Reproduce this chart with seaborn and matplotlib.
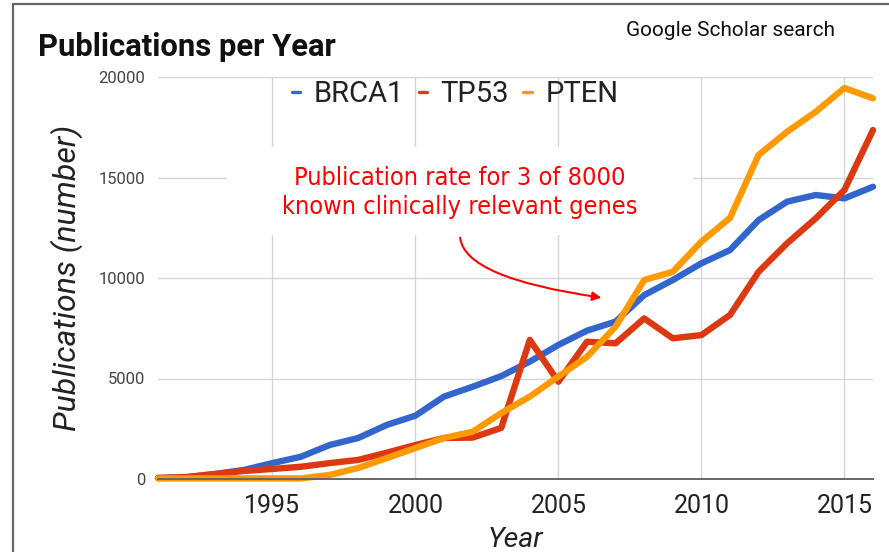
import matplotlib
matplotlib.use("Agg")
import matplotlib.pyplot as plt
from matplotlib.lines import Line2D
from matplotlib.patches import Rectangle, FancyArrowPatch
import seaborn as sns
import pandas as pd

# publications per year
years = list(range(1991, 2017))
brca1 = [50, 80, 250, 450, 790, 1110, 1690, 2040, 2690, 3150,
         4100, 4590, 5120, 5840, 6670, 7380, 7830, 9150, 9900, 10730,
         11390, 12880, 13800, 14130, 13960, 14540]
tp53 = [50, 100, 250, 400, 500, 610, 790, 950, 1310, 1690,
        2040, 2060, 2540, 6920, 4840, 6830, 6750, 7990, 7000, 7160,
        8160, 10310, 11730, 12970, 14380, 17360]
pten = [30, 30, 30, 30, 30, 30, 200, 550, 1040, 1540,
        2040, 2350, 3280, 4100, 5100, 6080, 7580, 9900, 10310, 11810,
        12990, 16120, 17280, 18270, 19450, 18940]
genes = ["BRCA1", "TP53", "PTEN"]
colores = ["#3366CC", "#DC3912", "#FF9900"]
x_ticks = [1995, 2000, 2005, 2010, 2015]
y_ticks = [0, 5000, 10000, 15000, 20000]

df = pd.DataFrame({
    "Year": years * 3,
    "Publications": brca1 + tp53 + pten,
    "Gene": [g for g in genes for _ in years],
})

sns.set_style("white")
plt.rcParams["font.family"] = ["Roboto", "DejaVu Sans"]

fig = plt.figure(figsize=(8.89, 5.52), dpi=100)
ax = fig.add_axes([158 / 889, 1 - 479 / 552, 715 / 889, 402 / 552])

sns.lineplot(data=df, x="Year", y="Publications", hue="Gene", hue_order=genes,
             palette=colores, linewidth=4.6, legend=False, ax=ax)
for ln in ax.lines:
    ln.set_clip_on(False)
    ln.set_zorder(3)

ax.set_xlim(1991, 2016)
ax.set_ylim(0, 20000)
ax.set_xticks(x_ticks)
ax.set_yticks(y_ticks)
ax.set_yticklabels([str(v) for v in y_ticks])
ax.grid(True, color="#d6d6d6", linewidth=1.0)
ax.set_axisbelow(True)
for s in ["top", "right", "left"]:
    ax.spines[s].set_visible(False)
ax.spines["bottom"].set_color("#666666")
ax.spines["bottom"].set_linewidth(1.4)
ax.spines["bottom"].set_zorder(4)
ax.tick_params(axis="y", length=0, pad=9, labelsize=12, labelcolor="#444444")
ax.tick_params(axis="x", length=0, pad=11, labelsize=18, labelcolor="#222222")

ax.set_xlabel("Year", fontsize=20.5, fontstyle="italic", color="#222222", labelpad=6)
ax.set_ylabel("Publications (number)", fontsize=23, fontstyle="italic",
              color="#222222", labelpad=11)

# legend with short dashes
handles = [Line2D([0], [0], color=c, linewidth=2.4) for c in colores]
ax.legend(handles, genes, loc="center left", bbox_to_anchor=(0.187, 0.958),
          ncol=3, frameon=False, fontsize=21, handlelength=0.3,
          handletextpad=0.45, columnspacing=0.5, borderpad=0, borderaxespad=0,
          labelcolor="#222222")

# white box behind the note
ax.add_patch(Rectangle((227, 552 - 235), 466, 88, transform=None,
                       facecolor="white", edgecolor="none", zorder=1))
ax.text(2001.56, 14250, "Publication rate for 3 of 8000\nknown clinically relevant genes",
        color="red", fontsize=18.2, family="DejaVu Sans", fontstretch="condensed",
        ha="center", va="center", linespacing=1.25, zorder=2)
flecha = FancyArrowPatch((2001.56, 12140), (2006.6, 9005),
                         connectionstyle="angle3,angleA=-90,angleB=-8", arrowstyle="-|>",
                         mutation_scale=13, color="red", linewidth=1.5, zorder=2)
ax.add_patch(flecha)

fig.text(38 / 889, 1 - 56 / 552, "Publications per Year", fontsize=22.3,
         fontweight="bold", color="#111111", va="baseline")
fig.text(835 / 889, 1 - 36 / 552, "Google Scholar search", fontsize=15,
         color="#111111", ha="right", va="baseline")

# frame lines of the slide
fig.add_artist(Line2D([13 / 889, 1], [1 - 4 / 552, 1 - 4 / 552], color="#666666", linewidth=1.6))
fig.add_artist(Line2D([13 / 889, 13 / 889], [0, 1 - 4 / 552], color="#666666", linewidth=1.6))

fig.savefig("out.png", dpi=100)
